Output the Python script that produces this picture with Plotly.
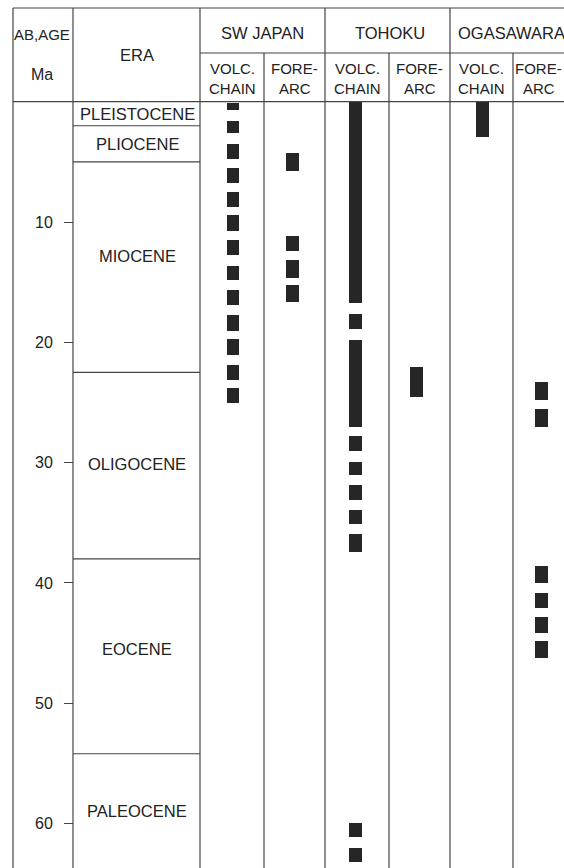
import plotly.graph_objects as go

# ---------------- data (ages in Ma) ----------------
era_names = ["PLEISTOCENE", "PLIOCENE", "MIOCENE", "OLIGOCENE", "EOCENE", "PALEOCENE"]
era_bounds = [0.0, 2.0, 5.0, 22.5, 38.0, 54.2]
era_label_age = [1.05, 3.5, 12.8, 30.1, 45.5, 59.0]

age_ticks = [10, 20, 30, 40, 50, 60]
age_tick_labels = ["10", "20", "30", "40", "50", "60"]

regions = ["SW JAPAN", "TOHOKU", "OGASAWARA"]
sub_cols = ["VOLC.<br>CHAIN", "FORE-<br>ARC"]

sw_volc_start = [0.1, 1.6, 3.5, 5.5, 7.5, 9.4, 11.5, 13.6, 15.6, 17.7, 19.7, 21.9, 23.8]
sw_volc_end = [0.7, 2.6, 4.7, 6.7, 8.7, 10.7, 12.7, 14.8, 16.9, 19.0, 21.0, 23.1, 25.0]

sw_fore_start = [4.2, 11.1, 13.1, 15.2]
sw_fore_end = [5.7, 12.4, 14.6, 16.6]

toh_volc_start = [0.0, 17.6, 19.8, 27.8, 29.9, 31.8, 33.9, 35.9, 59.9, 62.0]
toh_volc_end = [16.7, 18.9, 27.0, 29.0, 31.0, 33.1, 35.1, 37.4, 61.1, 63.2]

toh_fore_start = [22.0]
toh_fore_end = [24.5]

oga_volc_start = [0.0]
oga_volc_end = [2.9]

oga_fore_start = [23.3, 25.5, 38.6, 40.8, 42.8, 44.8]
oga_fore_end = [24.8, 27.0, 40.0, 42.1, 44.1, 46.2]

# ---------------- layout constants ----------------
W, H = 564, 868
HEAD_BOTTOM = 101.7   # pixel row of age 0
PX_PER_MA = 12.03
AGE_MAX = (H - HEAD_BOTTOM) / PX_PER_MA

col_x = [13, 73, 200, 264, 325, 389, 450, 513, 564]
bar_centers = [233, 292.5, 355.5, 416.5, 482.5, 541.5]
bar_width = 12.5
LINE = dict(color="#444444", width=1.2)
FONT = "Liberation Sans, Arial, sans-serif"
TXT = "#222222"
BAR = "#262626"


def py(p):
    return 1 - p / H


series = [
    (sw_volc_start, sw_volc_end),
    (sw_fore_start, sw_fore_end),
    (toh_volc_start, toh_volc_end),
    (toh_fore_start, toh_fore_end),
    (oga_volc_start, oga_volc_end),
    (oga_fore_start, oga_fore_end),
]
names = ["SW Japan volc. chain", "SW Japan fore-arc", "Tohoku volc. chain",
         "Tohoku fore-arc", "Ogasawara volc. chain", "Ogasawara fore-arc"]

fig = go.Figure()
for (s, e), xc, nm in zip(series, bar_centers, names):
    fig.add_trace(go.Bar(
        x=[xc] * len(s), base=s, y=[b - a for a, b in zip(s, e)],
        width=bar_width, marker=dict(color=BAR, line=dict(width=0)),
        name=nm, showlegend=False,
    ))

shapes = []
top = 8
# outer / structural lines
shapes.append(dict(type="line", xref="x", yref="paper", x0=col_x[0], x1=W, y0=py(top), y1=py(top), line=LINE))
shapes.append(dict(type="line", xref="x", yref="paper", x0=col_x[0], x1=W, y0=py(HEAD_BOTTOM), y1=py(HEAD_BOTTOM), line=LINE))
shapes.append(dict(type="line", xref="x", yref="paper", x0=col_x[2], x1=W, y0=py(53), y1=py(53), line=LINE))
for i, xv in enumerate(col_x[:-1]):
    y_top = 53 if i in (3, 5, 7) else top
    shapes.append(dict(type="line", xref="x", yref="paper", x0=xv, x1=xv, y0=py(y_top), y1=0, line=LINE))
# era boundaries
for b in era_bounds[1:]:
    shapes.append(dict(type="line", xref="x", yref="y", x0=col_x[1], x1=col_x[2], y0=b, y1=b, line=LINE))

ann = []
def add_text(x, y, t, size, yref="paper"):
    ann.append(dict(x=x, y=y, xref="x", yref=yref, text=t, showarrow=False,
                    font=dict(family=FONT, size=size, color=TXT),
                    xanchor="center", yanchor="middle", align="center"))

add_text(42, py(34), "AB,AGE", 15)
add_text(42, py(74), "Ma", 16)
add_text(137, py(55), "ERA", 16.5)
region_centers = [262.5, 389.5, 511]
for r, xc in zip(regions, region_centers):
    add_text(xc, py(33), r, 16.5)
sub_centers = [(col_x[i] + col_x[i + 1]) / 2 for i in range(2, 8)]
for k, xc in enumerate(sub_centers):
    lines = sub_cols[k % 2].split("<br>")
    add_text(xc, py(69), lines[0], 15)
    add_text(xc, py(88), lines[1], 15)
for nm, ya in zip(era_names, era_label_age):
    add_text(137, ya, nm, 16.5, yref="y")

fig.update_layout(
    width=W, height=H, margin=dict(l=0, r=0, t=0, b=0),
    paper_bgcolor="white", plot_bgcolor="white",
    barmode="overlay", bargap=0,
    shapes=shapes, annotations=ann,
    xaxis=dict(range=[0, W], visible=False, fixedrange=True),
    yaxis=dict(range=[AGE_MAX, 0], domain=[0, py(HEAD_BOTTOM)],
               anchor="free", position=col_x[1] / W, side="left",
               tickvals=age_ticks, ticktext=age_tick_labels,
               ticks="outside", ticklen=9, tickwidth=1.2, tickcolor="#444444",
               ticklabelstandoff=8,
               tickfont=dict(family=FONT, size=16, color=TXT),
               showgrid=False, zeroline=False, showline=False, fixedrange=True),
)

fig.write_html("out.html", config={"displayModeBar": False},
               post_script="document.body.style.margin='0px';document.body.style.overflow='hidden';")
